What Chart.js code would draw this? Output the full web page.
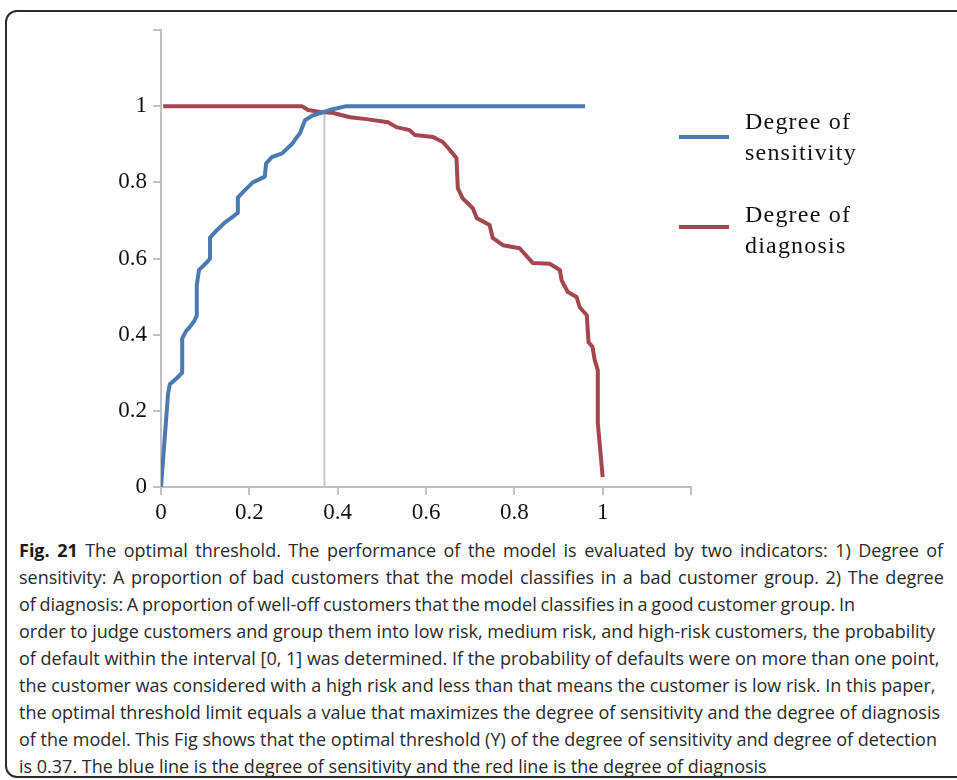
<!DOCTYPE html>
<html>
<head>
<meta charset="utf-8">
<script src="https://cdn.jsdelivr.net/npm/chart.js@4.4.1/dist/chart.umd.min.js"></script>
<style>
  body { margin: 0; background: #fff; width: 957px; height: 780px; overflow: hidden; position: relative; }
  .frame { position: absolute; left: 5px; top: 10px; width: 1000px; height: 764px; border: 2px solid #2b2b2b; border-radius: 12px; }
  #chart { position: absolute; left: 0; top: 0; }
  .legend-line { position: absolute; width: 50px; height: 4px; }
  .legend-text { position: absolute; font-family: "Liberation Serif", serif; font-size: 24px; line-height: 31px; letter-spacing: 1.2px; color: #111; white-space: nowrap; }
  .caption { position: absolute; left: 19px; top: 537px; font-family: "Open Sans", sans-serif; font-size: 18px; line-height: 27px; color: #2a2a2a; white-space: nowrap; }
  .caption b { font-weight: 700; color: #1a1a1a; }
</style>
</head>
<body>
<div class="frame"></div>
<canvas id="chart" width="720" height="530"></canvas>
<div id="legend"></div>
<div class="caption">
  <div style="word-spacing: 2.8px"><b>Fig. 21</b> The optimal threshold. The performance of the model is evaluated by two indicators: 1) Degree of</div>
  <div style="word-spacing: 1.9px">sensitivity: A proportion of bad customers that the model classifies in a bad customer group. 2) The degree</div>
  <div style="word-spacing: -1px">of diagnosis: A proportion of well-off customers that the model classifies in a good customer group. In</div>
  <div>order to judge customers and group them into low risk, medium risk, and high-risk customers, the probability</div>
  <div>of default within the interval [0, 1] was determined. If the probability of defaults were on more than one point,</div>
  <div>the customer was considered with a high risk and less than that means the customer is low risk. In this paper,</div>
  <div>the optimal threshold limit equals a value that maximizes the degree of sensitivity and the degree of diagnosis</div>
  <div>of the model. This Fig shows that the optimal threshold (Y) of the degree of sensitivity and degree of detection</div>
  <div>is 0.37. The blue line is the degree of sensitivity and the red line is the degree of diagnosis</div>
</div>

<script>
// degree of sensitivity (blue)
const sensX = [0, 0.016, 0.02, 0.035, 0.048, 0.048, 0.057, 0.065, 0.075, 0.081, 0.081, 0.086, 0.104, 0.111, 0.111,
  0.127, 0.145, 0.163, 0.174, 0.174, 0.186, 0.208, 0.235, 0.238, 0.251, 0.274, 0.296, 0.315, 0.326, 0.344,
  0.367, 0.389, 0.42, 0.96];
const sensY = [0, 0.245, 0.27, 0.285, 0.3, 0.39, 0.41, 0.42, 0.435, 0.45, 0.53, 0.57, 0.59, 0.6, 0.655,
  0.675, 0.695, 0.71, 0.72, 0.76, 0.775, 0.8, 0.815, 0.85, 0.866, 0.876, 0.9, 0.93, 0.963, 0.976,
  0.984, 0.992, 1.0, 1.0];

// degree of diagnosis (red)
const diagX = [0.005, 0.319, 0.333, 0.36, 0.39, 0.428, 0.465, 0.514, 0.533, 0.563, 0.575, 0.616, 0.638, 0.654,
  0.669, 0.672, 0.683, 0.706, 0.715, 0.744, 0.751, 0.774, 0.812, 0.842, 0.88, 0.903, 0.907, 0.921, 0.941,
  0.948, 0.964, 0.968, 0.977, 0.982, 0.989, 0.989, 1.0];
const diagY = [1.0, 1.0, 0.99, 0.985, 0.982, 0.971, 0.966, 0.958, 0.945, 0.937, 0.924, 0.919, 0.906, 0.885,
  0.864, 0.785, 0.758, 0.732, 0.706, 0.688, 0.654, 0.635, 0.627, 0.588, 0.586, 0.57, 0.543, 0.512, 0.499,
  0.472, 0.451, 0.38, 0.368, 0.333, 0.307, 0.168, 0.026];

// optimal threshold marker
const thresholdX = [0.37, 0.37];
const thresholdY = [0, 0.985];

const tickLabels = ["0", "0.2", "0.4", "0.6", "0.8", "1"];
const seriesNames = ["Degree of sensitivity", "Degree of diagnosis"];
const legendLines = [["Degree of", "sensitivity"], ["Degree of", "diagnosis"]];
const colors = ["#4a7ab0", "#a4464e"];

const toPoints = (xs, ys) => xs.map((x, i) => ({ x: x, y: ys[i] }));

const tickFont = { family: "'Liberation Serif', serif", size: 23 };
const axisGrey = "#c0c0c0";
const labelFor = (value, index) => (index < tickLabels.length ? tickLabels[index] : "");

const ctx = document.getElementById("chart").getContext("2d");
new Chart(ctx, {
  type: "scatter",
  data: {
    datasets: [
      {
        label: seriesNames[0],
        data: toPoints(sensX, sensY),
        showLine: true,
        borderColor: colors[0],
        borderWidth: 4,
        pointRadius: 0,
        borderJoinStyle: "round",
      },
      {
        label: seriesNames[1],
        data: toPoints(diagX, diagY),
        showLine: true,
        borderColor: colors[1],
        borderWidth: 4,
        pointRadius: 0,
        borderJoinStyle: "round",
      },
      {
        label: "threshold",
        data: toPoints(thresholdX, thresholdY),
        showLine: true,
        borderColor: "#c8c8c8",
        borderWidth: 2,
        pointRadius: 0,
      },
    ],
  },
  options: {
    responsive: false,
    animation: false,
    events: [],
    layout: { padding: { top: 30, right: 29, left: 0, bottom: 0 } },
    plugins: { legend: { display: false }, tooltip: { enabled: false } },
    scales: {
      x: {
        type: "linear",
        min: 0,
        max: 1.2,
        ticks: { stepSize: 0.2, callback: labelFor, font: tickFont, color: "#111", padding: 4, maxRotation: 0, autoSkip: false },
        grid: { drawOnChartArea: false, tickLength: 8, color: axisGrey, lineWidth: 2 },
        border: { color: axisGrey, width: 2 },
        afterFit: (scale) => { scale.height = 43; },
      },
      y: {
        min: 0,
        max: 1.2,
        ticks: { stepSize: 0.2, callback: labelFor, font: tickFont, color: "#111", padding: 6, autoSkip: false },
        grid: { drawOnChartArea: false, tickLength: 8, color: axisGrey, lineWidth: 2 },
        border: { color: axisGrey, width: 2 },
        afterFit: (scale) => { scale.width = 161; },
      },
    },
  },
});

// legend on the right, two-line labels
const legend = document.getElementById("legend");
const lineTops = [135, 225];
const textTops = [106, 199];
legendLines.forEach((lines, i) => {
  const bar = document.createElement("div");
  bar.className = "legend-line";
  bar.style.left = "679px";
  bar.style.top = lineTops[i] + "px";
  bar.style.background = colors[i];
  legend.appendChild(bar);
  const txt = document.createElement("div");
  txt.className = "legend-text";
  txt.style.left = "745px";
  txt.style.top = textTops[i] + "px";
  txt.innerHTML = lines.join("<br>");
  legend.appendChild(txt);
});
</script>
</body>
</html>
